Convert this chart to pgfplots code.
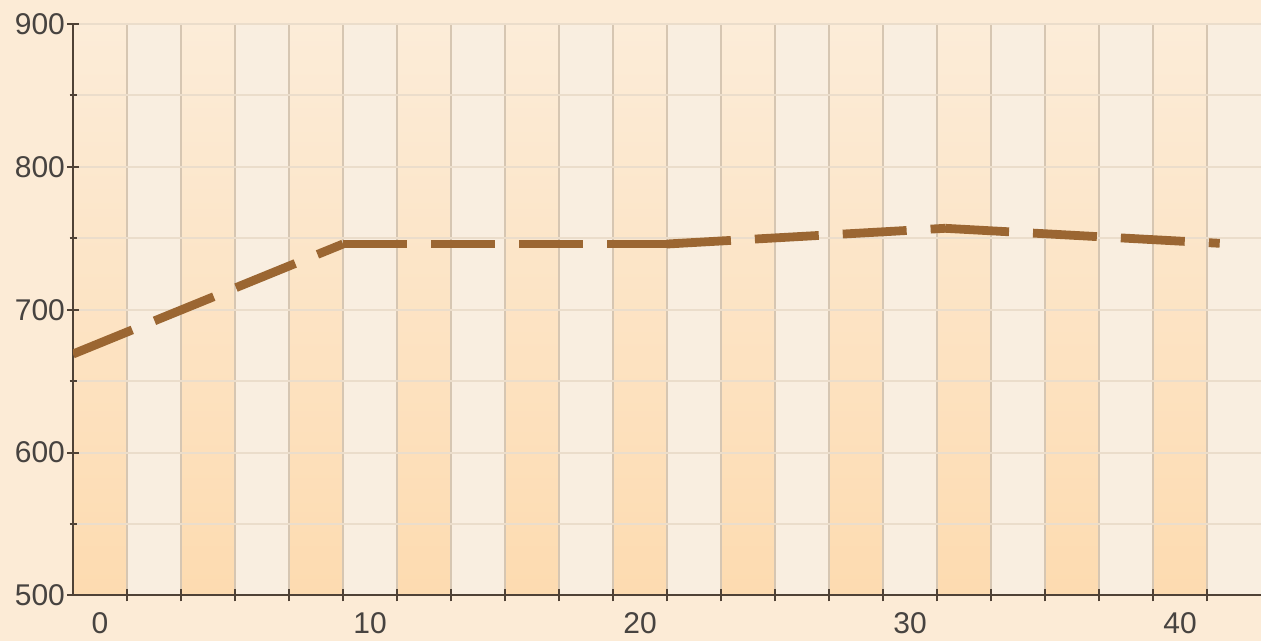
\documentclass[border=0pt]{standalone}
\usepackage{pgfplots}
\pgfplotsset{compat=1.18}
\usepackage{fontspec}
\setmainfont{Liberation Sans}
\definecolor{bg}{HTML}{FCEBD6}
\definecolor{stripeA}{HTML}{FDDBB0}
\definecolor{stripeAtop}{HTML}{FCECD8}
\definecolor{stripeB}{HTML}{F9EEE0}
\definecolor{vgrid}{HTML}{D6C6B2}
\definecolor{hgrid}{HTML}{EBDDCB}
\definecolor{axcol}{HTML}{4F4236}
\definecolor{linecol}{HTML}{9B6632}
\definecolor{txt}{HTML}{474340}
\begin{document}
\begin{tikzpicture}
\begin{axis}[
  at={(0,0)}, anchor=south west,
  scale only axis, width=594pt, height=285.75pt,
  xmin=-1, xmax=43, ymin=500, ymax=900,
  set layers,
  axis lines=left, axis line style={-, axcol, line width=1pt},
  xtick={1,3,...,41}, xticklabels={},
  extra x ticks={0,10,20,30,40},
  extra x tick labels={0,10,20,30,40},
  extra x tick style={grid=none, major tick length=0pt},
  ytick={500,600,...,900}, minor y tick num=1,
  major tick length=6pt, minor tick length=3.5pt,
  tick style={axcol, line width=1pt},
  xmajorgrids, ymajorgrids, yminorgrids,
  major x grid style={vgrid, line width=1pt},
  major y grid style={hgrid, line width=1pt},
  minor y grid style={hgrid, line width=1pt},
  tick label style={font=\fontsize{15}{18}\selectfont, text=txt},
  xticklabel style={yshift=-5pt},
  yticklabel style={xshift=2.5pt},
  /pgf/number format/assume math mode=true,
]
\begin{pgfonlayer}{axis background}
\fill[bg] ([xshift=-36.5pt,yshift=-22.75pt]rel axis cs:0,0) rectangle ([yshift=12pt]rel axis cs:1,1);
\end{pgfonlayer}
\addplot[on layer=axis background, fill=stripeB, draw=none] coordinates {(-1,500) (-1,900) (43,900) (43,500)} -- cycle;
\foreach \a/\b in {-1/1,3/5,7/9,11/13,15/17,19/21,23/25,27/29,31/33,35/37,39/41}{
  \edef\tmp{\noexpand\addplot[on layer=axis background, draw=none, bottom color=stripeA, top color=stripeAtop] coordinates {(\a,500) (\a,900) (\b,900) (\b,500)} -- cycle;}
  \tmp
}
\addplot[linecol, line width=4.4pt, dash pattern=on 32pt off 12pt] coordinates {(-1,669) (9,746)};
\addplot[linecol, line width=4.4pt, dash pattern=on 32pt off 12pt] coordinates {(9,746) (21,746)};
\addplot[linecol, line width=4.4pt, dash pattern=on 32pt off 12pt] coordinates {(21,746) (31.3,757)};
\addplot[linecol, line width=4.4pt, dash pattern=on 32pt off 12pt] coordinates {(31.3,757) (41.47,746.5)};
\end{axis}
\pgfresetboundingbox
\path (-36.5pt,-22.75pt) rectangle (594pt,297.75pt);
\end{tikzpicture}
\end{document}
